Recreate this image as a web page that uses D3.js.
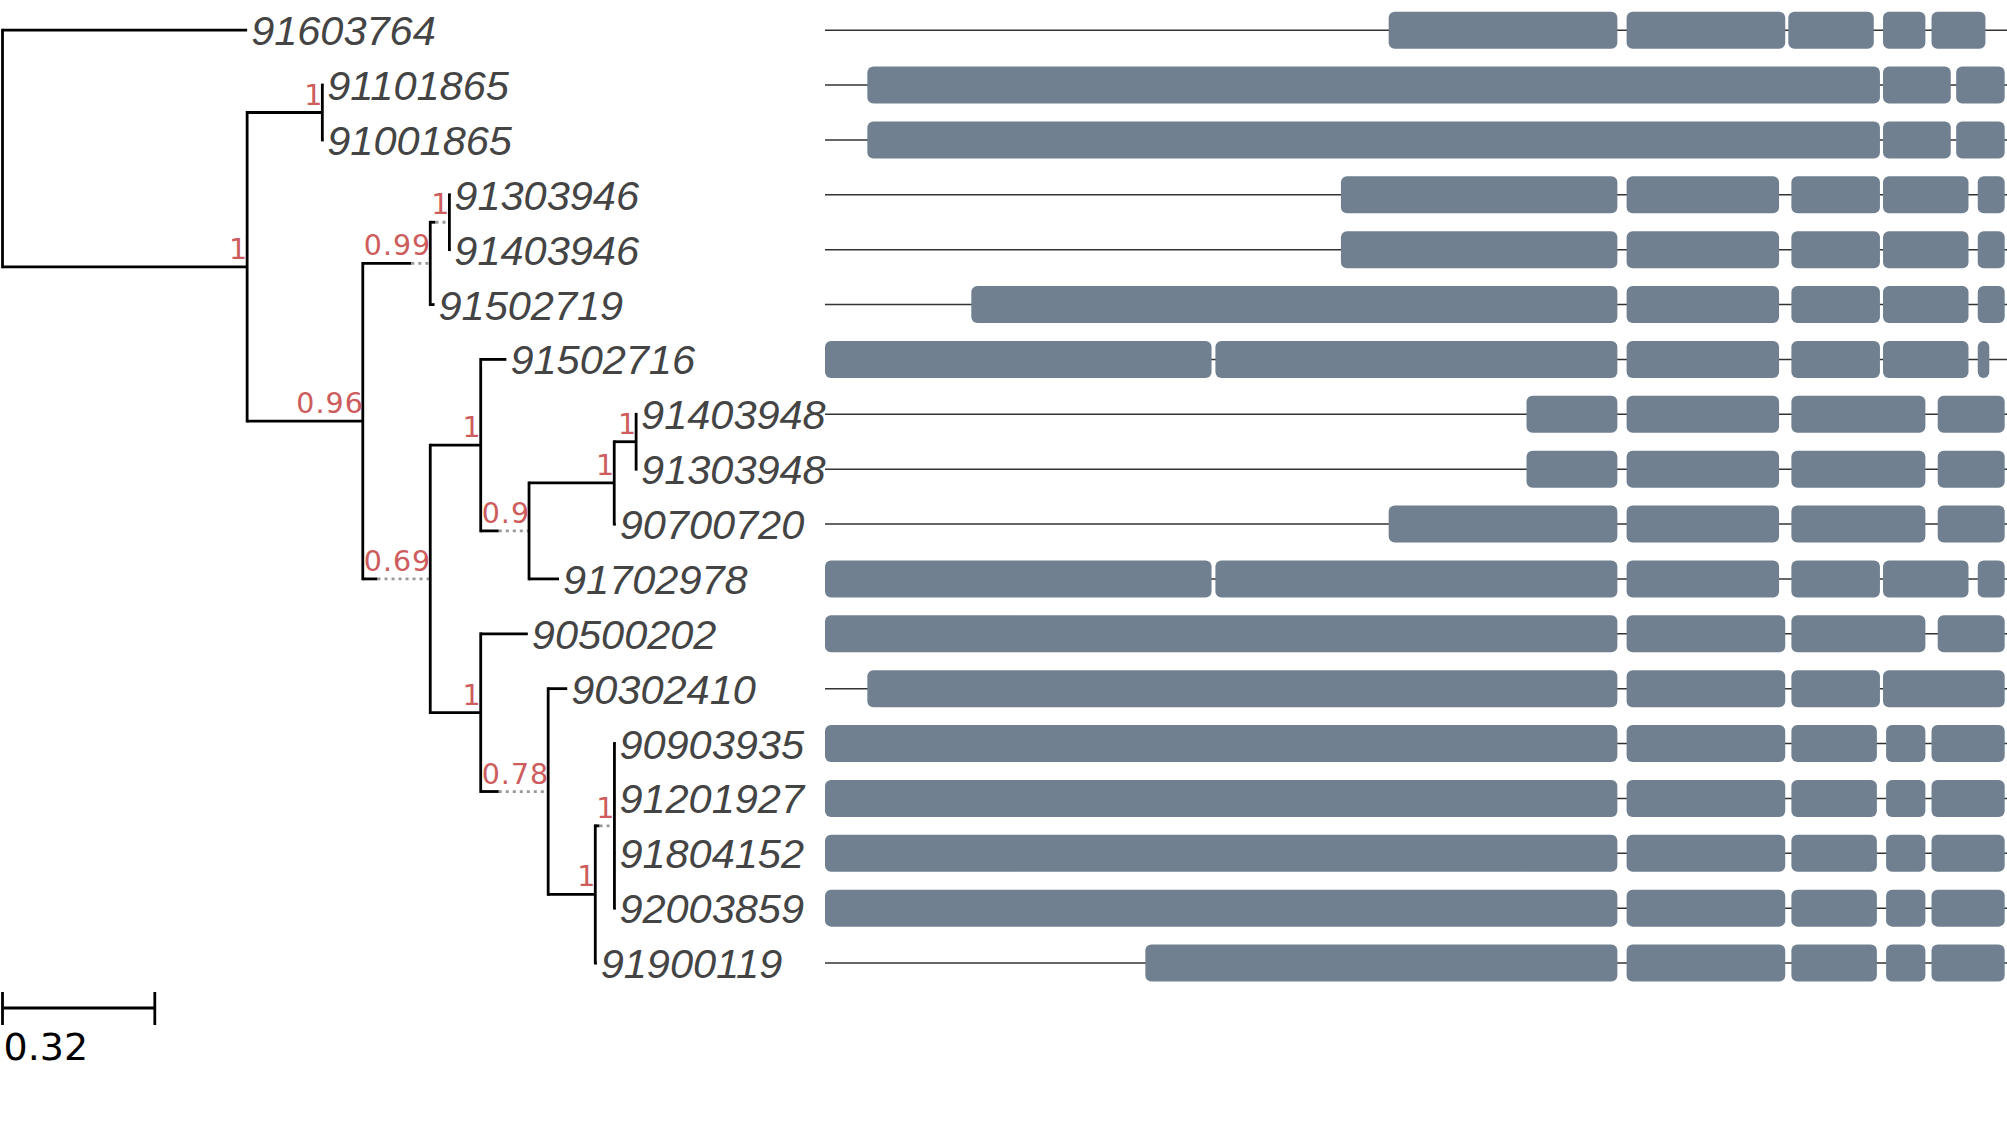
<!DOCTYPE html>
<html>
<head>
<meta charset="utf-8">
<script src="https://cdn.jsdelivr.net/npm/d3@7"></script>
<style>
  body { margin: 0; background: #fff; }
</style>
</head>
<body>
<div id="chart"></div>
<script>
// tree with branch lengths and support values
var treeNewick = "(91603764:0.514,((91101865:0.002,91001865:0.002)1:0.158," +
  "(((91303946:0.002,91403946:0.002)1:0.011,91502719:0.009)0.99:0.102," +
  "((91502716:0.054,(((91403948:0.002,91303948:0.002)1:0.046,90700720:0.003)1:0.179,91702978:0.063)0.9:0.038)1:0.106," +
  "(90500202:0.099,(90302410:0.040,((90903935:0.002,91201927:0.002,91804152:0.002,92003859:0.002)1:0.009,91900119:0.003)1:0.099)0.78:0.038)1:0.106)0.69:0.031)0.96:0.243)1:0.514);";

var scaleBarValue = 0.32;
var seqLength = 1535;

// exon blocks [start, end] per sequence, in alignment positions
var geneNames = ["91603764", "91101865", "91001865", "91303946", "91403946", "91502719",
  "91502716", "91403948", "91303948", "90700720", "91702978", "90500202", "90302410",
  "90903935", "91201927", "91804152", "92003859", "91900119"];

var geneExons = [
  [[732, 1029], [1041, 1247], [1251, 1362], [1374, 1429], [1437, 1507]],
  [[55, 1370], [1374, 1462], [1469, 1532]],
  [[55, 1370], [1374, 1462], [1469, 1532]],
  [[670, 1029], [1041, 1239], [1255, 1370], [1374, 1485], [1497, 1532]],
  [[670, 1029], [1041, 1239], [1255, 1370], [1374, 1485], [1497, 1532]],
  [[190, 1029], [1041, 1239], [1255, 1370], [1374, 1485], [1497, 1532]],
  [[0, 502], [507, 1029], [1041, 1239], [1255, 1370], [1374, 1485], [1497, 1512]],
  [[911, 1029], [1041, 1239], [1255, 1429], [1445, 1532]],
  [[911, 1029], [1041, 1239], [1255, 1429], [1445, 1532]],
  [[732, 1029], [1041, 1239], [1255, 1429], [1445, 1532]],
  [[0, 502], [507, 1029], [1041, 1239], [1255, 1370], [1374, 1485], [1497, 1532]],
  [[0, 1029], [1041, 1247], [1255, 1429], [1445, 1532]],
  [[55, 1029], [1041, 1247], [1255, 1370], [1374, 1532]],
  [[0, 1029], [1041, 1247], [1255, 1366], [1378, 1429], [1437, 1532]],
  [[0, 1029], [1041, 1247], [1255, 1366], [1378, 1429], [1437, 1532]],
  [[0, 1029], [1041, 1247], [1255, 1366], [1378, 1429], [1437, 1532]],
  [[0, 1029], [1041, 1247], [1255, 1366], [1378, 1429], [1437, 1532]],
  [[416, 1029], [1041, 1247], [1255, 1366], [1378, 1429], [1437, 1532]]
];

function parseNewick(s) {
  var i = 0;
  function node() {
    var n = {children: []};
    if (s[i] === "(") {
      i++;
      n.children.push(node());
      while (s[i] === ",") { i++; n.children.push(node()); }
      i++;
    }
    var label = /^[^:,();]*/.exec(s.slice(i))[0];
    i += label.length;
    if (n.children.length) n.support = label; else n.name = label;
    n.length = 0;
    if (s[i] === ":") {
      i++;
      var b = /^[0-9.eE-]+/.exec(s.slice(i))[0];
      i += b.length;
      n.length = +b;
    }
    if (!n.children.length) delete n.children;
    return n;
  }
  return node();
}

function init()
{
  var width = 2007, height = 1145;
  var treeLeft = 2.5;

  var svg = d3.select("#chart")
    .append("svg")
    .attr("width", width)
    .attr("height", height)
    .style("display", "block");

  var xTree = d3.scaleLinear().domain([0, scaleBarValue]).range([0, 152.3]);
  var xGene = d3.scaleLinear().domain([0, seqLength]).range([825, 2007]);

  var root = d3.hierarchy(parseNewick(treeNewick));
  var leaves = root.leaves();
  var yRow = d3.scaleLinear().domain([0, leaves.length - 1]).range([30.2, 963]);

  // support labels: the branch gets a dotted extension when the label is wider
  function supportStyle(sel) {
    return sel.style("font-family", "'DejaVu Sans', Verdana, sans-serif")
      .style("font-size", "28.5px")
      .style("letter-spacing", "1px");
  }
  var probe = svg.append("text").call(supportStyle);
  function textWidth(t) { probe.text(t); return probe.node().getComputedTextLength(); }

  leaves.forEach(function(d, i) { d.y = yRow(i); });
  root.eachAfter(function(d) {
    if (d.children) d.y = (d.children[0].y + d.children[d.children.length - 1].y) / 2;
  });
  root.eachBefore(function(d) {
    if (!d.parent) { d.x = treeLeft; return; }
    d.x0 = d.parent.x;
    d.xs = d.x0 + xTree(d.data.length);
    var w = d.data.support ? textWidth(d.data.support) : 0;
    d.x = Math.max(d.xs, d.x0 + w);
  });
  probe.remove();

  var lineW = 2.8;
  var tree = svg.append("g").attr("class", "tree");
  var nodes = root.descendants();

  // horizontal branches
  tree.selectAll(".hline")
    .data(nodes.filter(function(d) { return d.parent; }))
    .enter()
    .append("line")
      .attr("class", "hline")
      .attr("x1", function(d) { return d.x0; })
      .attr("x2", function(d) { return d.xs; })
      .attr("y1", function(d) { return d.y; })
      .attr("y2", function(d) { return d.y; })
      .style("stroke", "#000")
      .style("stroke-width", lineW);

  // dotted extensions
  tree.selectAll(".extra")
    .data(nodes.filter(function(d) { return d.parent && d.x > d.xs + 0.5; }))
    .enter()
    .append("line")
      .attr("class", "extra")
      .attr("x1", function(d) { return d.xs; })
      .attr("x2", function(d) { return d.x; })
      .attr("y1", function(d) { return d.y; })
      .attr("y2", function(d) { return d.y; })
      .style("stroke", "#999")
      .style("stroke-width", lineW)
      .style("stroke-dasharray", "3,4");

  // vertical lines
  tree.selectAll(".vline")
    .data(nodes.filter(function(d) { return d.children; }))
    .enter()
    .append("line")
      .attr("class", "vline")
      .attr("x1", function(d) { return d.x; })
      .attr("x2", function(d) { return d.x; })
      .attr("y1", function(d) { return d.children[0].y - lineW / 2; })
      .attr("y2", function(d) { return d.children[d.children.length - 1].y + lineW / 2; })
      .style("stroke", "#000")
      .style("stroke-width", lineW);

  // support values
  tree.selectAll(".support")
    .data(nodes.filter(function(d) { return d.parent && d.data.support; }))
    .enter()
    .append("text")
      .attr("class", "support")
      .attr("x", function(d) { return d.x + 1; })
      .attr("y", function(d) { return d.y - 8; })
      .style("text-anchor", "end")
      .call(supportStyle)
      .style("fill", "#cd5c5c")
      .text(function(d) { return d.data.support; });

  // leaf names
  tree.selectAll(".leaf")
    .data(leaves)
    .enter()
    .append("text")
      .attr("class", "leaf")
      .attr("x", function(d) { return d.x + 4; })
      .attr("y", function(d) { return d.y + 15; })
      .style("font-family", "'Liberation Sans', Arial, sans-serif")
      .style("font-style", "italic")
      .style("font-size", "41.5px")
      .style("fill", "#444")
      .text(function(d) { return d.data.name; });

  // gene structures
  var rows = svg.append("g").attr("class", "genes")
    .selectAll("g")
    .data(leaves)
    .enter()
    .append("g")
      .attr("transform", function(d) { return "translate(0," + d.y + ")"; });

  rows.append("line")
    .attr("x1", xGene(0))
    .attr("x2", xGene(seqLength))
    .style("stroke", "#333")
    .style("stroke-width", 1.5);

  rows.selectAll("rect")
    .data(function(d) { return geneExons[geneNames.indexOf(d.data.name)]; })
    .enter()
    .append("rect")
      .attr("x", function(e) { return xGene(e[0]); })
      .attr("width", function(e) { return xGene(e[1]) - xGene(e[0]); })
      .attr("y", -18.5)
      .attr("height", 37)
      .attr("rx", 6)
      .attr("ry", 6)
      .style("fill", "#708090");

  // scale bar
  var bar = svg.append("g").attr("class", "scale")
    .attr("transform", "translate(" + treeLeft + ",1008)");

  bar.append("line")
    .attr("x1", xTree(0))
    .attr("x2", xTree(scaleBarValue))
    .style("stroke", "#000")
    .style("stroke-width", lineW);

  bar.selectAll(".tick")
    .data([0, scaleBarValue])
    .enter()
    .append("line")
      .attr("class", "tick")
      .attr("x1", function(d) { return xTree(d); })
      .attr("x2", function(d) { return xTree(d); })
      .attr("y1", -16)
      .attr("y2", 17)
      .style("stroke", "#000")
      .style("stroke-width", lineW);

  bar.append("text")
    .attr("x", 1)
    .attr("y", 52)
    .style("font-family", "'DejaVu Sans', Verdana, sans-serif")
    .style("font-size", "38px")
    .style("fill", "#000")
    .text(scaleBarValue);
}

window.onload = init;
</script>
</body>
</html>
